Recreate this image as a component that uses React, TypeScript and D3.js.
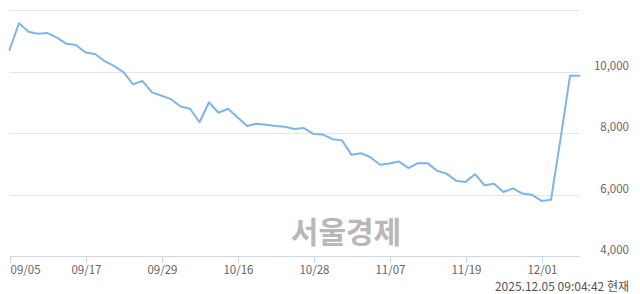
import React from "react";
import * as d3 from "d3";

const dates: string[] = [
  "09/05","09/08","09/09","09/10","09/11","09/12","09/15","09/16","09/17","09/18",
  "09/19","09/22","09/23","09/24","09/25","09/26","09/29","09/30","10/01","10/02",
  "10/10","10/13","10/14","10/15","10/16","10/17","10/20","10/21","10/22","10/23",
  "10/24","10/27","10/28","10/29","10/30","10/31","11/03","11/04","11/05","11/06",
  "11/07","11/10","11/11","11/12","11/13","11/14","11/17","11/18","11/19","11/20",
  "11/21","11/24","11/25","11/26","11/27","11/28","12/01","12/02","12/03","12/04","12/05",
];

const prices: number[] = [
  10700, 11570, 11290, 11230, 11250, 11100, 10900, 10860, 10620, 10570,
  10340, 10180, 9980, 9580, 9690, 9320, 9210, 9100, 8860, 8790,
  8350, 9000, 8660, 8790, 8510, 8230, 8300, 8270, 8230, 8200,
  8130, 8160, 7970, 7950, 7800, 7760, 7290, 7340, 7210, 6970,
  7010, 7070, 6860, 7020, 7020, 6770, 6680, 6450, 6410, 6660,
  6300, 6350, 6080, 6200, 6030, 5990, 5790, 5830, 7800, 9860, 9860,
];

const yTicks: number[] = [4000, 6000, 8000, 10000, 12000];
const yLabelTicks: number[] = [4000, 6000, 8000, 10000];
const xTickDates: string[] = ["09/05", "09/17", "09/29", "10/16", "10/28", "11/07", "11/19", "12/01"];
const stamp = "2025.12.05 09:04:42 현재";
const watermark = "서울경제";

const W = 640;
const H = 294;
const left = 9.5;
const right = 579.5;
const top = 10;
const bottom = 256;

export default function App() {
  const x = d3.scaleLinear().domain([0, dates.length - 1]).range([left, right]);
  const y = d3.scaleLinear().domain([4000, 12000]).range([bottom, top]);
  const line = d3
    .line<number>()
    .x((_, i) => x(i))
    .y((d) => y(d));
  const font = "'Noto Sans CJK KR', 'Noto Sans', sans-serif";
  return (
    <svg
      width={W}
      height={H}
      style={{ position: "absolute", left: 0, top: 0, display: "block", background: "#fff" }}
      fontFamily={font}
    >
      {yTicks.map((t) =>
        t === 4000 ? null : (
          <line key={t} x1={left} x2={right} y1={Math.round(y(t)) + 0.5} y2={Math.round(y(t)) + 0.5} stroke="#e6e6e6" strokeWidth={1} />
        )
      )}
      <text x={346} y={243} textAnchor="middle" fontSize={30} fontWeight={700} fill="#b8b8b8">
        {watermark}
      </text>
      <line x1={left} x2={right} y1={bottom + 0.5} y2={bottom + 0.5} stroke="#ccd6eb" strokeWidth={1} />
      {xTickDates.map((d, k) => {
        const i = dates.indexOf(d);
        const xx = Math.round(x(i)) + 0.5;
        return (
          <g key={d}>
            <line x1={xx} x2={xx} y1={bottom} y2={bottom + 7} stroke="#ccd6eb" strokeWidth={1} />
            <text x={xx} y={274} textAnchor={k === 0 ? "start" : "middle"} fontSize={11.5} fill="#666">
              {d}
            </text>
          </g>
        );
      })}
      {yLabelTicks.map((t) => (
        <text key={t} x={629} y={y(t) - 2} textAnchor="end" fontSize={11.5} fill="#666">
          {d3.format(",")(t)}
        </text>
      ))}
      <path d={line(prices) || ""} fill="none" stroke="#7cb5ec" strokeWidth={2} strokeLinejoin="round" strokeLinecap="round" />
      <text x={629} y={291} textAnchor="end" fontSize={12} fill="#555">
        {stamp}
      </text>
    </svg>
  );
}
